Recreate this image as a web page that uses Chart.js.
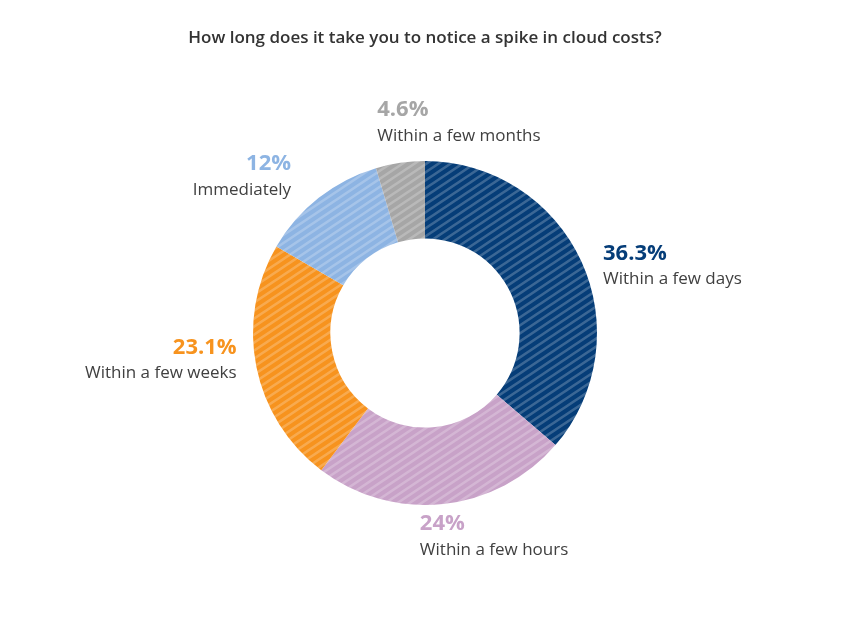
<!DOCTYPE html>
<html>
<head>
<meta charset="utf-8">
<script src="https://cdn.jsdelivr.net/npm/chart.js@4.4.1/dist/chart.umd.min.js"></script>
<style>
    html, body { margin: 0; padding: 0; background: #ffffff; }
    #wrap { width: 843px; height: 622px; position: relative; }
</style>
</head>
<body>
<div id="wrap"><canvas id="myDonut"></canvas></div>
<script>
const chartTitle = 'How long does it take you to notice a spike in cloud costs?';
const categories = ['Within a few days', 'Within a few hours', 'Within a few weeks', 'Immediately', 'Within a few months'];
const shares = [36.3, 24, 23.1, 12, 4.6];
const shareLabels = ['36.3%', '24%', '23.1%', '12%', '4.6%'];
const sliceColors = ['#053d78', '#c8a2c8', '#f7931e', '#8db4e3', '#a6a6a6'];

// where each label block sits relative to the point just outside its slice
const labelAlign = ['left', 'left', 'right', 'right', 'left'];
const labelNudge = [[9, -2], [-25, 6], [-6, -22], [-19, -23], [-21, -39]];

/*------------------striped fill for the slices------------------------*/
function makeHatch(color) {
    const w = 12, h = 8;
    const tile = document.createElement('canvas');
    tile.width = w;
    tile.height = h;
    const t = tile.getContext('2d');
    t.fillStyle = color;
    t.fillRect(0, 0, w, h);
    t.strokeStyle = 'rgba(255, 255, 255, 0.22)';
    t.lineWidth = 2.6;
    t.beginPath();
    // lines h*x + w*y = w*h*k, a few copies so the tile joins up
    for (let k = 0; k <= 2; k++) {
        const yAt = x => (w * h * k - h * x) / w;
        t.moveTo(-w, yAt(-w));
        t.lineTo(2 * w, yAt(2 * w));
    }
    t.stroke();
    return t.createPattern(tile, 'repeat');
}

/*------------------outside labels------------------------*/
const outsideLabels = {
    id: 'outsideLabels',
    afterDatasetsDraw(chart) {
        const ctx = chart.ctx;
        const meta = chart.getDatasetMeta(0);
        meta.data.forEach((arc, i) => {
            const p = arc.getProps(['x', 'y', 'startAngle', 'endAngle', 'outerRadius'], true);
            const mid = (p.startAngle + p.endAngle) / 2;
            const r = p.outerRadius + 14;
            const ax = p.x + Math.cos(mid) * r + labelNudge[i][0];
            const ay = p.y + Math.sin(mid) * r + labelNudge[i][1];

            ctx.save();
            ctx.textAlign = labelAlign[i];
            ctx.textBaseline = 'middle';
            ctx.fillStyle = sliceColors[i];
            ctx.font = 'bold 22px "Open Sans"';
            ctx.fillText(shareLabels[i], ax, ay);
            ctx.fillStyle = '#404040';
            ctx.font = '17px "Open Sans"';
            ctx.fillText(categories[i], ax, ay + 26);
            ctx.restore();
        });
    }
};

const ctx = document.getElementById('myDonut').getContext('2d');
new Chart(ctx, {
    type: 'doughnut',
    data: {
        labels: categories,
        datasets: [{
            data: shares,
            backgroundColor: sliceColors.map(makeHatch),
            borderWidth: 0
        }]
    },
    options: {
        responsive: true,
        maintainAspectRatio: false,
        animation: false,
        cutout: '55%',
        layout: {
            padding: { top: 0, bottom: 117, left: 7, right: 0 }
        },
        plugins: {
            legend: { display: false },
            tooltip: { enabled: false },
            title: {
                display: true,
                text: chartTitle,
                color: '#333333',
                font: { family: 'Open Sans', size: 17, weight: '600' },
                padding: { top: 28, bottom: 112.6 }
            }
        }
    },
    plugins: [outsideLabels]
});
</script>
</body>
</html>
